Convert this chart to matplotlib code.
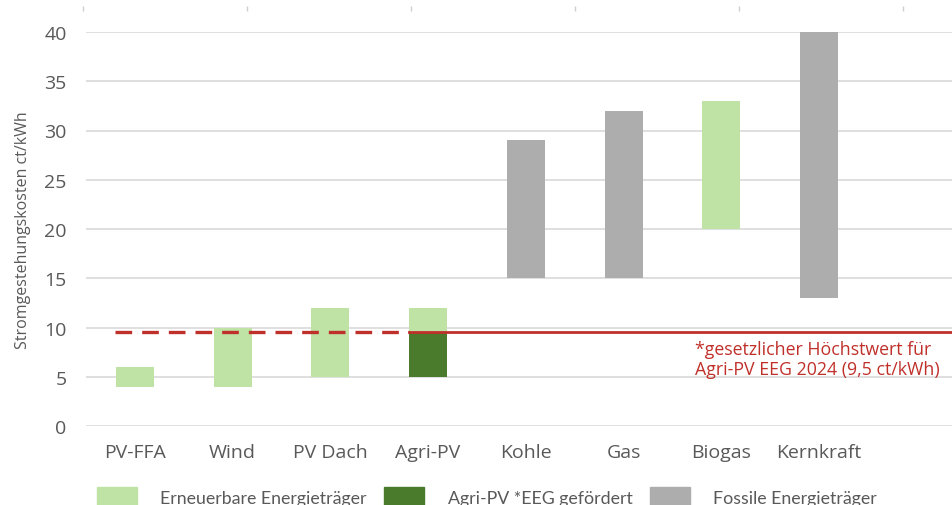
import matplotlib.pyplot as plt
from matplotlib.patches import Patch
import numpy as np

plt.rcParams['font.family'] = ['Open Sans', 'DejaVu Sans']

# Data: cost ranges in ct/kWh
categories = ["PV-FFA", "Wind", "PV Dach", "Agri-PV", "Kohle", "Gas", "Biogas", "Kernkraft"]
low = [4, 4, 5, 5, 15, 15, 20, 13]
high = [6, 10, 12, 12, 29, 32, 33, 40]
kind = ["ee", "ee", "ee", "ee", "fossil", "fossil", "ee", "fossil"]
eeg_low, eeg_high = 5, 9.5   # Agri-PV EEG funded part
limit = 9.5

c_ee = "#bee3a5"
c_eeg = "#4a7a2c"
c_fossil = "#adadad"
c_red = "#c0302a"
c_text = "#595959"

fig = plt.figure(figsize=(9.53, 5.06), dpi=100)
ax = fig.add_axes([86 / 953, 79 / 506, 1 - 86 / 953, 394 / 506])

x = np.arange(len(categories))
colors = [c_ee if k == "ee" else c_fossil for k in kind]
ax.bar(x, np.array(high) - np.array(low), bottom=low, width=0.39,
       color=colors, zorder=2)
ax.bar(3, eeg_high - eeg_low, bottom=eeg_low, width=0.39, color=c_eeg, zorder=3)

# legal limit line: dashed up to Agri-PV, solid after
ax.plot([-0.2, 2.8], [limit, limit], color=c_red, lw=2.4, ls=(0, (5, 3)), zorder=4)
ax.plot([2.8, 8.4], [limit, limit], color=c_red, lw=2.0, zorder=4)
ax.text(5.73, 8.7, "*gesetzlicher Höchstwert für\nAgri-PV EEG 2024 (9,5 ct/kWh)",
        color=c_red, fontsize=12.8, va="top", ha="left", linespacing=1.12)

ax.set_xlim(-0.5, 8.37)
ax.set_ylim(0, 40)
ax.set_yticks(range(0, 41, 5))
ax.set_xticks(x)
ax.set_xticklabels(categories)
ax.grid(axis="y", color="#d9d9d9", lw=1.2, zorder=0)
for s in ax.spines.values():
    s.set_visible(False)
ax.tick_params(length=0, labelsize=14, colors=c_text)
ax.tick_params(axis="x", pad=12)
ax.tick_params(axis="y", pad=14)
ax.set_ylabel("Stromgestehungskosten ct/kWh", fontsize=11.5, color=c_text)
ax.yaxis.set_label_coords(-0.063, 0.5)

# small marks along the top edge
top = fig.add_axes([0, 0.975, 1, 0.02])
top.set_xlim(0, 953)
top.set_ylim(0, 1)
top.axis("off")
top.vlines(83 + 164 * np.arange(6), 0.1, 0.6, color="#cfcfcf", lw=1)

handles = [Patch(color=c_ee), Patch(color=c_eeg), Patch(color=c_fossil)]
labels = ["Erneuerbare Energieträger", "Agri-PV *EEG gefördert", "Fossile Energieträger"]
fig.legend(handles, labels, loc="lower left", bbox_to_anchor=(81 / 953, -0.035),
           ncol=3, frameon=False, handlelength=2.25, handleheight=1.35,
           handletextpad=1.3, columnspacing=1.0, labelcolor=c_text,
           prop={"family": "Lato", "size": 12.8})

fig.savefig("out.png", dpi=100)
